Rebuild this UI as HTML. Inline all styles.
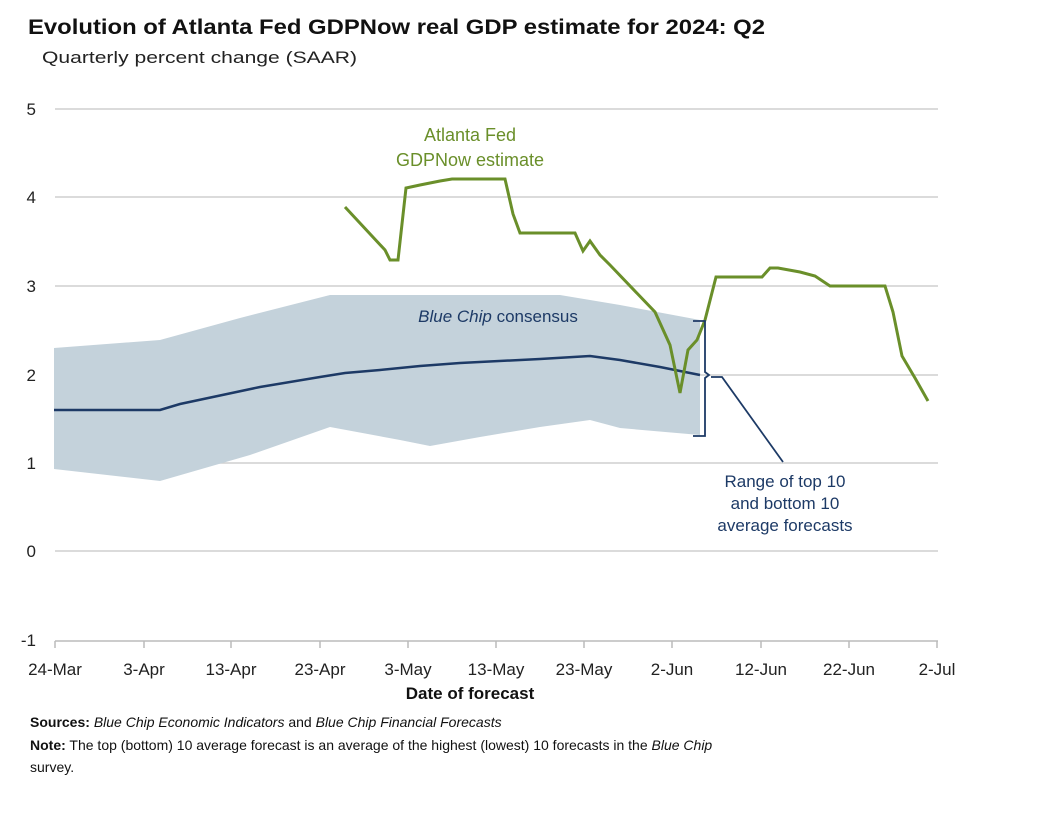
<!DOCTYPE html>
<html><head><meta charset="utf-8"><style>
body{margin:0;background:#fff;font-family:"Liberation Sans",sans-serif;}
</style></head><body>
<svg width="1048" height="811" xmlns="http://www.w3.org/2000/svg" font-family="Liberation Sans, sans-serif">
<rect width="1048" height="811" fill="#fff"/>
<text x="28" y="34" font-size="21" font-weight="bold" fill="#111" textLength="737" lengthAdjust="spacingAndGlyphs">Evolution of Atlanta Fed GDPNow real GDP estimate for 2024: Q2</text>
<text x="42" y="63" font-size="17" fill="#222" textLength="315" lengthAdjust="spacingAndGlyphs">Quarterly percent change (SAAR)</text>
<g stroke="#cfcfcf" stroke-width="1.5">
<line x1="55" y1="109" x2="938" y2="109"/><line x1="55" y1="197" x2="938" y2="197"/>
<line x1="55" y1="286" x2="938" y2="286"/><line x1="55" y1="375" x2="938" y2="375"/>
<line x1="55" y1="463" x2="938" y2="463"/><line x1="55" y1="551" x2="938" y2="551"/>
<line x1="55" y1="641" x2="938" y2="641" stroke="#bbb"/>
</g>
<g stroke="#bbb" stroke-width="1.5">
<line x1="55" y1="641" x2="55" y2="648"/><line x1="144" y1="641" x2="144" y2="648"/><line x1="231" y1="641" x2="231" y2="648"/><line x1="320" y1="641" x2="320" y2="648"/><line x1="408" y1="641" x2="408" y2="648"/><line x1="496" y1="641" x2="496" y2="648"/><line x1="584" y1="641" x2="584" y2="648"/><line x1="672" y1="641" x2="672" y2="648"/><line x1="761" y1="641" x2="761" y2="648"/><line x1="849" y1="641" x2="849" y2="648"/><line x1="937" y1="641" x2="937" y2="648"/>
</g>
<g font-size="17" fill="#222" text-anchor="end">
<text x="36" y="115">5</text><text x="36" y="203">4</text><text x="36" y="292">3</text><text x="36" y="381">2</text><text x="36" y="469">1</text><text x="36" y="557">0</text><text x="36" y="646">-1</text>
</g>
<g font-size="17" fill="#222" text-anchor="middle">
<text x="55" y="675">24-Mar</text><text x="144" y="675">3-Apr</text><text x="231" y="675">13-Apr</text><text x="320" y="675">23-Apr</text><text x="408" y="675">3-May</text><text x="496" y="675">13-May</text><text x="584" y="675">23-May</text><text x="672" y="675">2-Jun</text><text x="761" y="675">12-Jun</text><text x="849" y="675">22-Jun</text><text x="937" y="675">2-Jul</text>
</g>
<text x="470" y="699" font-size="17" font-weight="bold" fill="#111" text-anchor="middle">Date of forecast</text>
<polygon fill="#c4d2db" points="54,348 160,340 240,318 330,295 560,295 620,305 700,320 700,435 620,428 590,420 540,427 480,437 430,446 400,440 330,427 250,455 160,481 54,469"/>
<polyline fill="none" stroke="#1d3a66" stroke-width="2.5" points="54,410 160,410 180,404 260,387 320,377 345,373 380,370 420,366 460,363 540,359 590,356 620,360 660,367 700,375"/>
<polyline fill="none" stroke="#6a8f2a" stroke-width="3" points="345,207 385,250 390,260 398,260 406,188 420,185 440,181 452,179 505,179 513,214 520,233 575,233 583,251 590,241 600,255 610,265 655,312 670,345 680,393 688,350 697,340 705,320 716,277 762,277 770,268 778,268 800,272 815,276 830,286 885,286 893,312 902,356 915,378 928,401"/>
<path d="M693,321 H705 V372 L709,375 L705,378 V436 H693" fill="none" stroke="#1d3a66" stroke-width="1.8"/>
<polyline points="711,377 722,377 783,462" fill="none" stroke="#1d3a66" stroke-width="1.8"/>
<g font-size="17" fill="#1d3a66" text-anchor="middle">
<text x="785" y="487">Range of top 10</text><text x="785" y="509">and bottom 10</text><text x="785" y="531">average forecasts</text>
<text x="498" y="322"><tspan font-style="italic">Blue Chip</tspan> consensus</text>
</g>
<g font-size="18" fill="#6a8f2a" text-anchor="middle">
<text x="470" y="141">Atlanta Fed</text><text x="470" y="166">GDPNow estimate</text>
</g>
<g font-size="14" fill="#111">
<text x="30" y="727"><tspan font-weight="bold">Sources:</tspan> <tspan font-style="italic">Blue Chip Economic Indicators</tspan> and <tspan font-style="italic">Blue Chip Financial Forecasts</tspan></text>
<text x="30" y="750"><tspan font-weight="bold">Note:</tspan> The top (bottom) 10 average forecast is an average of the highest (lowest) 10 forecasts in the <tspan font-style="italic">Blue Chip</tspan></text>
<text x="30" y="772">survey.</text>
</g>
</svg>
</body></html>
